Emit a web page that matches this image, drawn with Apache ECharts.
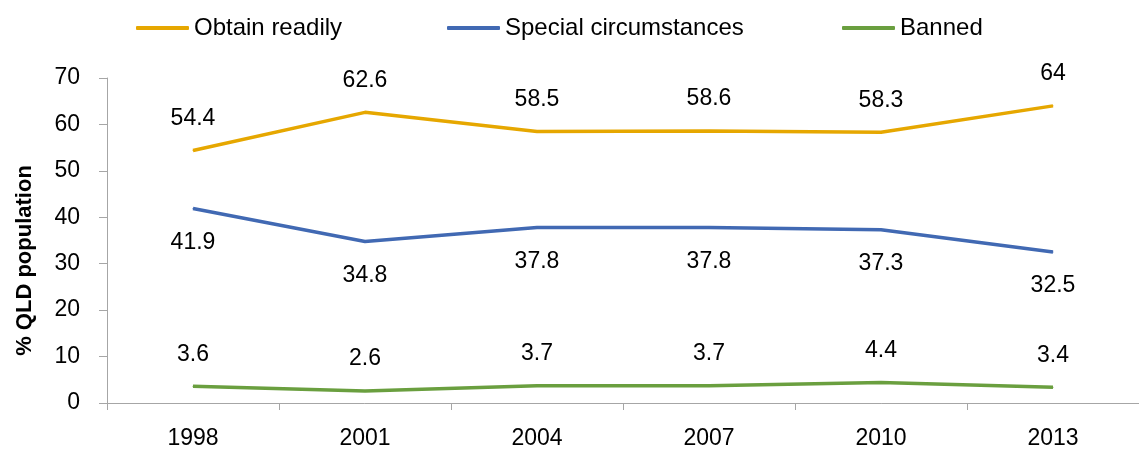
<!DOCTYPE html>
<html>
<head>
<meta charset="utf-8">
<script src="https://cdn.jsdelivr.net/npm/echarts@6/dist/echarts.min.js"></script>
<style>
    html, body { margin: 0; padding: 0; background: #fff; }
    .line_display { width: 1139px; height: 450px; }
</style>
</head>
<body>
<div class="line_display"></div>
<script>
var years = ['1998', '2001', '2004', '2007', '2010', '2013'];
var obtainReadily = [54.4, 62.6, 58.5, 58.6, 58.3, 64];
var specialCircumstances = [41.9, 34.8, 37.8, 37.8, 37.3, 32.5];
var banned = [3.6, 2.6, 3.7, 3.7, 4.4, 3.4];
var yTicks = [0, 10, 20, 30, 40, 50, 60, 70];

var FONT = '"Liberation Sans", Arial, sans-serif';

window.addEventListener('load', function() {
    var LineChart = echarts.init(document.querySelector(".line_display"));

    // one series helper
    function makeSeries(name, data, color, pos, dist) {
        return {
            name: name,
            type: 'line',
            data: data,
            symbol: 'circle',
            symbolSize: 1,
            showSymbol: true,
            itemStyle: { color: color },
            lineStyle: { color: color, width: 3.5 },
            label: {
                show: true,
                position: pos,
                distance: dist,
                color: '#000',
                fontFamily: FONT,
                fontSize: 23
            },
            emphasis: { disabled: true }
        };
    }

    function makeLegend(name, left) {
        return {
            data: [name],
            left: left,
            top: 11,
            itemWidth: 53,
            itemHeight: 4,
            itemGap: 0,
            itemTextGap: 5,
            icon: 'roundRect',
            textStyle: { fontFamily: FONT, fontSize: 24, color: '#000' }
        };
    }

    LineChart.setOption({
        animation: false,
        legend: [
            makeLegend('Obtain readily', 131),
            makeLegend('Special circumstances', 442),
            makeLegend('Banned', 837)
        ],
        grid: {
            left: 107,
            top: 78,
            width: 1043,
            bottom: 46.5,
            containLabel: false
        },
        xAxis: {
            type: 'category',
            data: years,
            boundaryGap: true,
            axisLine: { lineStyle: { color: '#a6a6a6', width: 1 } },
            axisTick: { show: true, length: 7, alignWithLabel: false, lineStyle: { color: '#a6a6a6' } },
            axisLabel: { margin: 24, color: '#000', fontFamily: FONT, fontSize: 23 }
        },
        yAxis: {
            type: 'value',
            min: yTicks[0],
            max: yTicks[yTicks.length - 1],
            interval: 10,
            name: '% QLD population',
            nameLocation: 'middle',
            nameGap: 71,
            nameTextStyle: {
                fontFamily: FONT,
                fontSize: 22,
                fontWeight: 'bold',
                color: '#000',
                padding: [0, 40, 0, 0]
            },
            splitLine: { show: false },
            axisLine: { show: true, lineStyle: { color: '#a6a6a6', width: 1 } },
            axisTick: { show: true, length: 8, lineStyle: { color: '#a6a6a6' } },
            axisLabel: { margin: 27, color: '#000', fontFamily: FONT, fontSize: 23 }
        },
        series: [
            makeSeries('Obtain readily', obtainReadily, '#E6A700', 'top', 20),
            makeSeries('Special circumstances', specialCircumstances, '#4169B3', 'bottom', 22),
            makeSeries('Banned', banned, '#6A9F3F', 'top', 20)
        ]
    });
});
</script>
</body>
</html>
